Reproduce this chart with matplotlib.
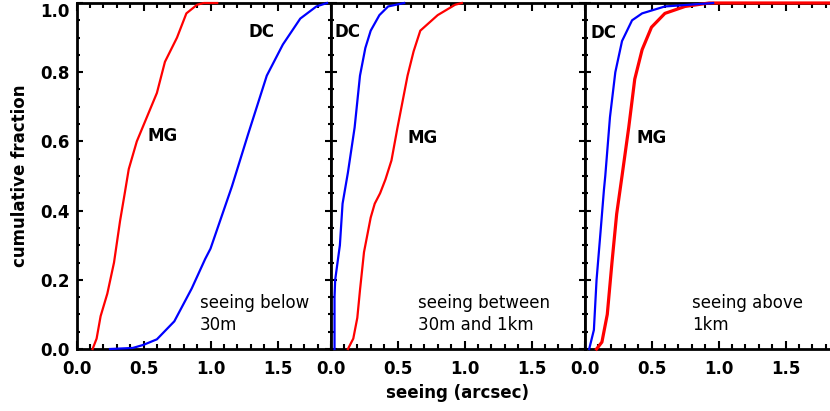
import matplotlib
matplotlib.use("Agg")
import matplotlib.pyplot as plt
from matplotlib.ticker import MultipleLocator

# panel 1: seeing below 30m
p1_mg_x = [0.12, 0.15, 0.18, 0.23, 0.28, 0.325, 0.36, 0.39, 0.45, 0.525, 0.60, 0.66, 0.75, 0.82, 0.90, 0.95, 1.05]
p1_mg_y = [0.0, 0.03, 0.095, 0.16, 0.25, 0.37, 0.45, 0.52, 0.60, 0.67, 0.74, 0.83, 0.90, 0.97, 0.995, 1.0, 1.0]
p1_dc_x = [0.25, 0.42, 0.50, 0.60, 0.73, 0.86, 0.96, 1.0, 1.08, 1.16, 1.20, 1.28, 1.42, 1.54, 1.67, 1.79, 1.87]
p1_dc_y = [0.0, 0.003, 0.012, 0.028, 0.08, 0.175, 0.26, 0.29, 0.38, 0.47, 0.52, 0.62, 0.79, 0.88, 0.955, 0.99, 1.0]

# panel 2: seeing between 30m and 1km
p2_mg_x = [0.13, 0.17, 0.20, 0.22, 0.25, 0.27, 0.30, 0.33, 0.37, 0.41, 0.455, 0.50, 0.575, 0.62, 0.67, 0.80, 0.93, 0.98]
p2_mg_y = [0.0, 0.03, 0.09, 0.17, 0.28, 0.32, 0.38, 0.42, 0.45, 0.49, 0.545, 0.64, 0.79, 0.86, 0.92, 0.965, 0.995, 1.0]
p2_dc_x = [0.03, 0.03, 0.035, 0.07, 0.09, 0.13, 0.18, 0.22, 0.26, 0.30, 0.365, 0.43, 0.55]
p2_dc_y = [0.0, 0.15, 0.20, 0.30, 0.42, 0.51, 0.64, 0.79, 0.87, 0.92, 0.965, 0.99, 1.0]

# panel 3: seeing above 1km
p3_mg_x = [0.09, 0.13, 0.17, 0.205, 0.24, 0.28, 0.33, 0.375, 0.43, 0.50, 0.60, 0.75, 0.93, 1.9]
p3_mg_y = [0.0, 0.02, 0.10, 0.25, 0.39, 0.50, 0.64, 0.78, 0.865, 0.93, 0.97, 0.99, 1.0, 1.0]
p3_dc_x = [0.035, 0.07, 0.09, 0.12, 0.145, 0.155, 0.19, 0.23, 0.28, 0.355, 0.43, 0.60, 0.93, 0.96]
p3_dc_y = [0.0, 0.055, 0.20, 0.34, 0.46, 0.50, 0.67, 0.80, 0.89, 0.95, 0.97, 0.99, 0.999, 1.0]

captions = ["seeing below\n30m", "seeing between\n30m and 1km", "seeing above\n1km"]
caption_x = [0.92, 0.65, 0.80]
dc_pos = [(1.38, 0.915), (0.13, 0.915), (0.14, 0.913)]
mg_pos = [(0.64, 0.615), (0.69, 0.61), (0.50, 0.61)]
xticks = [0.0, 0.5, 1.0, 1.5]

fig = plt.figure(figsize=(8.3, 4.11), dpi=100)
W, H = 830.0, 411.0
lefts = [76.5, 330.5, 584.5]
panels = [(p1_mg_x, p1_mg_y, p1_dc_x, p1_dc_y),
          (p2_mg_x, p2_mg_y, p2_dc_x, p2_dc_y),
          (p3_mg_x, p3_mg_y, p3_dc_x, p3_dc_y)]

for i in range(3):
    ax = fig.add_axes([lefts[i] / W, 62 / H, 254.6 / W, 346 / H])
    mx, my, dx, dy = panels[i]
    mlw = 2.3 if i == 2 else 1.6
    ax.plot(mx, my, color="#ff0000", lw=mlw, clip_on=False, zorder=3)
    ax.plot(dx, dy, color="#0000ff", lw=1.6, clip_on=False, zorder=3)
    ax.set_xlim(0, 1.9)
    ax.set_ylim(0, 1)
    ax.set_xticks(xticks)
    ax.set_xticklabels(["%.1f" % t for t in xticks], fontweight="bold", fontsize=12)
    ax.xaxis.set_minor_locator(MultipleLocator(0.1))
    ax.yaxis.set_major_locator(MultipleLocator(0.2))
    ax.yaxis.set_minor_locator(MultipleLocator(0.05))
    ax.tick_params(axis="x", which="major", direction="in", top=True, length=6, width=1.5, pad=8)
    ax.tick_params(axis="x", which="minor", direction="in", top=True, length=3.5, width=1.5)
    ax.tick_params(axis="y", which="major", direction="in", right=True, length=4, width=1.5, pad=5)
    ax.tick_params(axis="y", which="minor", direction="in", right=True, length=2.2, width=1.5)
    if i == 0:
        yt = [0.0, 0.2, 0.4, 0.6, 0.8, 1.0]
        ax.set_yticks(yt)
        labs = ax.set_yticklabels(["%.1f" % t for t in yt], fontweight="bold", fontsize=12)
        labs[-1].set_va("top")
        ax.set_ylabel("cumulative fraction", fontweight="bold", fontsize=12, labelpad=8)
    else:
        ax.set_yticklabels([])
    if i == 1:
        ax.set_xlabel("seeing (arcsec)", fontweight="bold", fontsize=12, labelpad=4)
    for s in ax.spines.values():
        s.set_linewidth(2)
    ax.text(dc_pos[i][0], dc_pos[i][1], "DC", fontweight="bold", fontsize=12,
            ha="center", va="center")
    ax.text(mg_pos[i][0], mg_pos[i][1], "MG", fontweight="bold", fontsize=12,
            ha="center", va="center")
    ax.text(caption_x[i], 0.10, captions[i], fontsize=12, ha="left", va="center",
            linespacing=1.3)

fig.savefig("out.png", dpi=100)
